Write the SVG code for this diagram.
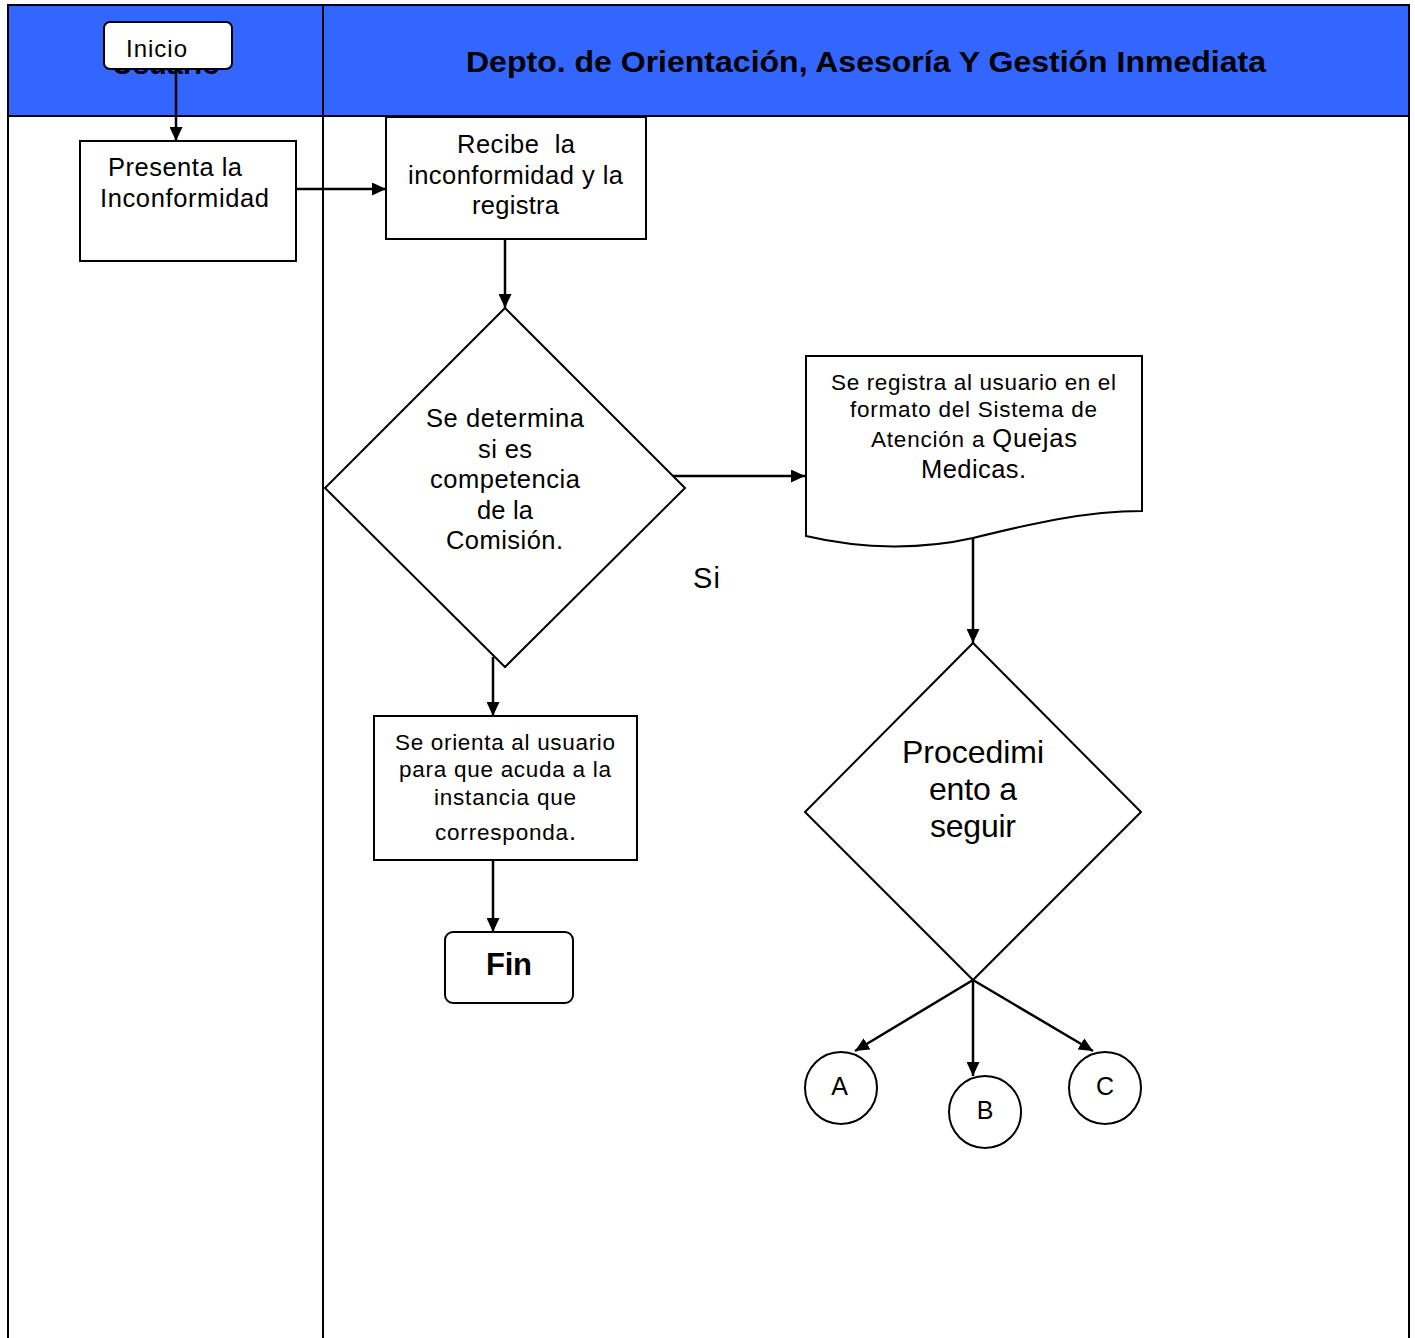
<svg xmlns="http://www.w3.org/2000/svg" width="1415" height="1338" viewBox="0 0 1415 1338">
<defs>
<marker id="ah" viewBox="0 0 10 10" refX="10" refY="5" markerWidth="14" markerHeight="13" markerUnits="userSpaceOnUse" orient="auto" preserveAspectRatio="none">
<path d="M0,0 L10,5 L0,10 Z" fill="#000"/>
</marker>
<style>
.t{font-family:"Liberation Sans",Arial,sans-serif;fill:#000;text-anchor:middle}
.b{font-weight:bold}
.sh{fill:#fff;stroke:#000;stroke-width:2}
.ln{fill:none;stroke:#000;stroke-width:2.5;marker-end:url(#ah)}
</style>
</defs>
<rect x="0" y="0" width="1415" height="1338" fill="#fff"/>
<g id="lanes">
<rect x="8" y="5" width="1401" height="111" fill="#3366FF"/>
<path d="M8,1338 V5 H1409 V1338 M8,116 H1409 M323,5 V1338" fill="none" stroke="#000" stroke-width="2"/>
<text class="t b" x="166" y="74" font-size="29">Usuario</text>
<text class="t b" x="866" y="72" font-size="30" textLength="800" lengthAdjust="spacingAndGlyphs">Depto. de Orientación, Asesoría Y Gestión Inmediata</text>
</g>
<g id="connectors">
<line class="ln" x1="176" y1="69" x2="176" y2="141"/>
<line class="ln" x1="294" y1="189" x2="386" y2="189"/>
<line class="ln" x1="505" y1="237" x2="505" y2="308"/>
<line class="ln" x1="673" y1="476" x2="805" y2="476"/>
<line class="ln" x1="973" y1="538" x2="973" y2="643"/>
<line class="ln" x1="493" y1="657" x2="493" y2="716"/>
<line class="ln" x1="493" y1="860" x2="493" y2="932"/>
<line class="ln" x1="973" y1="980" x2="855" y2="1051"/>
<line class="ln" x1="973" y1="980" x2="973" y2="1076"/>
<line class="ln" x1="973" y1="980" x2="1093" y2="1051"/>
<text class="t" x="706.5" y="588" font-size="29" textLength="27">Si</text>
</g>
<g id="inicio">
<rect class="sh" x="104" y="22" width="128" height="47" rx="6"/>
<text class="t" x="156.5" y="57" font-size="24" textLength="61">Inicio</text>
</g>
<g id="presenta">
<rect class="sh" x="80" y="141" width="216" height="120"/>
<text class="t" x="175" y="176" font-size="25.5" textLength="134">Presenta la</text>
<text class="t" x="184.5" y="207" font-size="25.5" textLength="169">Inconformidad</text>
</g>
<g id="recibe">
<rect class="sh" x="386" y="117" width="260" height="122"/>
<text class="t" x="516" y="153" font-size="25.5" textLength="118" xml:space="preserve">Recibe  la</text>
<text class="t" x="515.5" y="184" font-size="25.5" textLength="215">inconformidad y la</text>
<text class="t" x="515.5" y="214" font-size="25.5" textLength="87">registra</text>
</g>
<g id="decision1">
<path class="sh" d="M505,308 L685,488 L505,667 L325,488 Z"/>
<text class="t" x="505" y="427" font-size="25.5" textLength="158">Se determina</text>
<text class="t" x="505" y="458" font-size="25.5" textLength="54">si es</text>
<text class="t" x="505" y="488" font-size="25.5" textLength="150">competencia</text>
<text class="t" x="505" y="519" font-size="25.5" textLength="56">de la</text>
<text class="t" x="504.5" y="549" font-size="25.5" textLength="117">Comisión.</text>
</g>
<g id="registro">
<path class="sh" d="M806,356 H1142 V511 C1085,511 1030,524 973,538 C925,549 865,550 806,536 Z"/>
<text class="t" x="973.5" y="390" font-size="22.5" textLength="285">Se registra al usuario en el</text>
<text class="t" x="973.5" y="417" font-size="22.5" textLength="247">formato del Sistema de</text>
<text class="t" x="974" y="447" font-size="22.5" textLength="206">Atención a <tspan font-size="25.5">Quejas</tspan></text>
<text class="t" x="973.5" y="478" font-size="25.5" textLength="105">Medicas.</text>
</g>
<g id="decision2">
<path class="sh" d="M973,643 L1141,812 L973,980 L805,812 Z"/>
<text class="t" x="973" y="763" font-size="32" textLength="142">Procedimi</text>
<text class="t" x="973" y="800" font-size="32" textLength="88">ento a</text>
<text class="t" x="973" y="837" font-size="32" textLength="86">seguir</text>
</g>
<g id="orienta">
<rect class="sh" x="374" y="716" width="263" height="144"/>
<text class="t" x="505" y="750" font-size="22.5" textLength="220">Se orienta al usuario</text>
<text class="t" x="505" y="777" font-size="22.5" textLength="212">para que acuda a la</text>
<text class="t" x="505" y="805" font-size="22.5" textLength="142">instancia que</text>
<text class="t" x="505.5" y="840" font-size="22.5" textLength="141">corresponda<tspan font-size="25.5">.</tspan></text>
</g>
<g id="fin">
<rect class="sh" x="445" y="932" width="128" height="71" rx="8"/>
<text class="t b" x="509" y="975" font-size="31" textLength="46">Fin</text>
</g>
<g id="nodeA">
<circle class="sh" cx="841" cy="1088" r="36"/>
<text class="t" x="839.5" y="1095" font-size="25">A</text>
</g>
<g id="nodeB">
<circle class="sh" cx="985" cy="1112" r="36"/>
<text class="t" x="985" y="1119" font-size="25">B</text>
</g>
<g id="nodeC">
<circle class="sh" cx="1105" cy="1088" r="36"/>
<text class="t" x="1105" y="1095" font-size="25">C</text>
</g>
</svg>
